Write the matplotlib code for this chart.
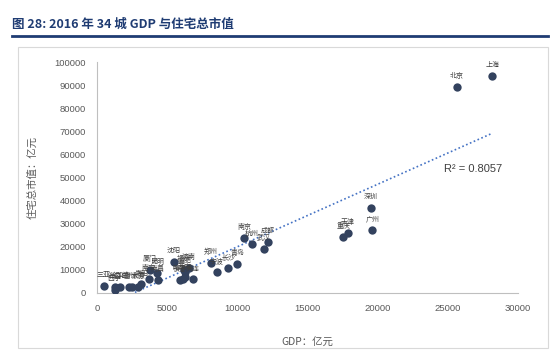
import numpy as np
import matplotlib
matplotlib.use("Agg")
import matplotlib.pyplot as plt
from matplotlib.patches import Rectangle
from matplotlib.lines import Line2D

plt.rcParams['font.family'] = ['Noto Sans CJK SC', 'DejaVu Sans']

# ---- data (GDP 亿元, 住宅总市值 亿元) ----
cities = ['三亚', '海口', '西宁', '银川', '兰州', '乌鲁木齐', '太原',
          '贵阳', '南宁', '厦门', '昆明', '南昌',
          '沈阳', '长春', '哈尔滨', '西安', '福州', '合肥', '大连', '济南',
          '郑州', '宁波', '长沙', '青岛',
          '南京', '杭州', '武汉', '成都',
          '重庆', '天津', '广州', '深圳', '北京', '上海']
gdp = [475, 1257, 1248, 1617, 2264, 2459, 2955,
       3158, 3703, 3784, 4300, 4355,
       5460, 5917, 6101, 6257, 6197, 6274, 6810, 6536,
       8114, 8541, 9357, 10011,
       10503, 11050, 11913, 12170,
       17559, 17885, 19611, 19493, 25669, 28179]
value = [2900, 2500, 1500, 2500, 2500, 2500, 2500,
         3900, 6000, 10000, 8600, 5700,
         13500, 5600, 6200, 6800, 10000, 9000, 6000, 10900,
         12900, 9300, 11000, 12600,
         24000, 21000, 19000, 22000,
         24300, 26000, 27400, 37000, 89000, 93900]

title = '图 28: 2016 年 34 城 GDP 与住宅总市值'
r2_text = 'R² = 0.8057'
xticks = [0, 5000, 10000, 15000, 20000, 25000, 30000]
yticks = [0, 10000, 20000, 30000, 40000, 50000, 60000, 70000, 80000, 90000, 100000]

W, H = 558, 357
fig = plt.figure(figsize=(W / 100, H / 100), dpi=100)

# title and rule
fig.text(12 / W, 1 - 24 / H, title, fontsize=9, fontweight='bold',
         color='#1F3C73', va='center', ha='left')
fig.add_artist(Line2D([12 / W, 548 / W], [1 - 36 / H, 1 - 36 / H],
                      color='#1F3C73', lw=2))
# chart frame
fig.add_artist(Rectangle((18 / W, 1 - 348 / H), (548 - 18) / W, (348 - 47) / H,
                         fill=False, edgecolor='#D9D9D9', lw=0.8))

ax = fig.add_axes([97 / W, 1 - 293 / H, (518 - 97) / W, (293 - 62) / H])
ax.set_xlim(0, 30000)
ax.set_ylim(0, 100000)
ax.set_xticks(xticks)
ax.set_yticks(yticks)
ax.set_xticklabels([str(t) for t in xticks], fontsize=6.8, color='#595959',
                   family='Liberation Sans')
ax.set_yticklabels([str(t) for t in yticks], fontsize=6.8, color='#595959',
                   family='Liberation Sans')
ax.tick_params(length=0, pad=8)
for s in ['top', 'right']:
    ax.spines[s].set_visible(False)
for s in ['left', 'bottom']:
    ax.spines[s].set_color('#BFBFBF')
    ax.spines[s].set_linewidth(0.8)
ax.spines['left'].set_zorder(0)

ax.scatter(gdp, value, s=36, color='#33425E', zorder=3, linewidths=0)

# linear trend line
x = np.array(gdp, dtype=float)
y = np.array(value, dtype=float)
k, b = np.polyfit(x, y, 1)
xs = np.linspace(min(x), max(x), 200)
ys = k * xs + b
mask = ys >= 0
ax.plot(xs[mask], ys[mask], linestyle=(0, (1, 1.5)), color='#4472C4',
        lw=1.2, zorder=2)

for name, gx, gy in zip(cities, gdp, value):
    ax.annotate(name, (gx, gy), xytext=(0, 5), textcoords='offset points',
                ha='center', va='bottom', fontsize=5, color='#404040', zorder=4)

ax.text(24700, 53500, r2_text, fontsize=8, color='#404040', va='center',
        ha='left', family='Liberation Sans')

ax.set_xlabel('GDP：亿元', fontsize=7.5, color='#595959', labelpad=18)
ax.set_ylabel('住宅总市值：亿元', fontsize=7.5, color='#595959', labelpad=12)

fig.savefig('out.png', dpi=100)
